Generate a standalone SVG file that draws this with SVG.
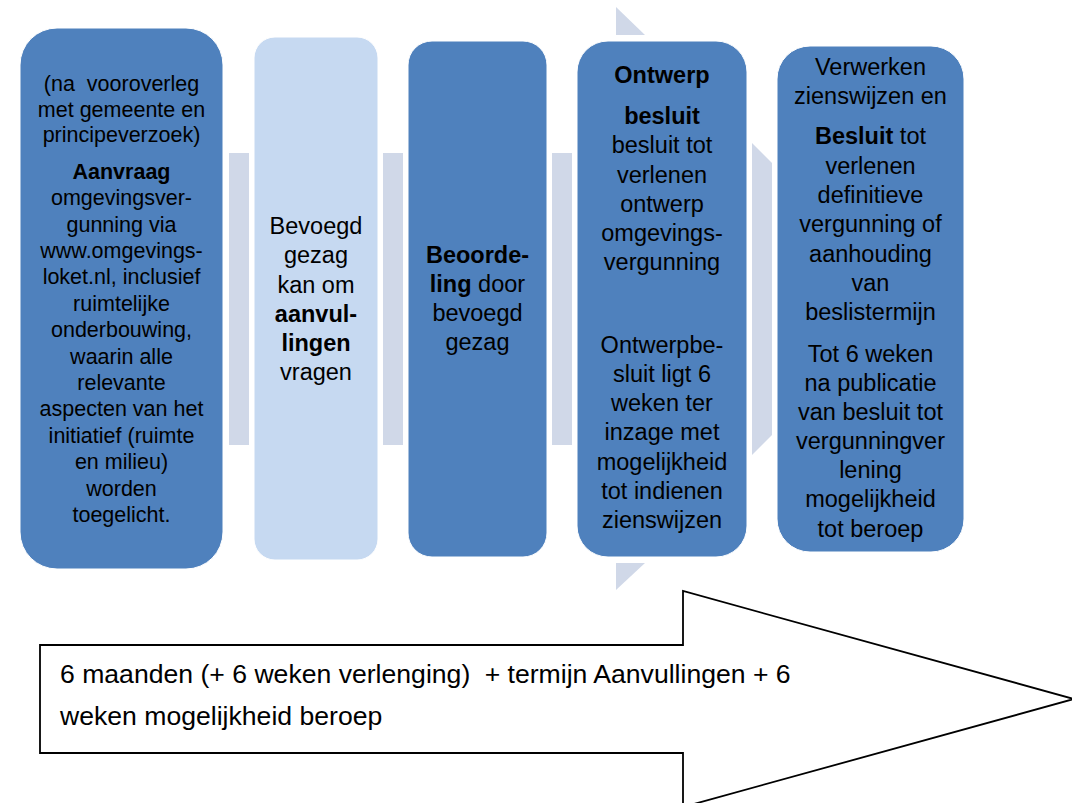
<svg xmlns="http://www.w3.org/2000/svg" width="1072" height="803" viewBox="0 0 1072 803">
<style>
text{font-family:"Liberation Sans",Arial,sans-serif;fill:#000;text-anchor:middle}
.s1{font-size:21.5px}
.s2{font-size:23.5px}
.b{font-weight:bold}
.dark{fill:#4F81BD;stroke:#fff;stroke-width:1}
.light{fill:#C6D9F1;stroke:#fff;stroke-width:1}
.conn{fill:#D0D8E8}
.big{fill:#fff;stroke:#000;stroke-width:1.8}
.note{font-size:26.6px;text-anchor:start}
</style>
<rect width="1072" height="803" fill="#fff"/>
<g id="connectors">
<polygon class="conn" points="616,7 645,35 616,35"/>
<polygon class="conn" points="616,563 645,563 616,590"/>
<rect class="conn" x="229" y="153" width="20" height="292"/>
<rect class="conn" x="383" y="153" width="20" height="292"/>
<rect class="conn" x="552" y="153" width="20" height="292"/>
<polygon class="conn" points="752,143 772,163 772,435 752,455"/>
</g>
<g id="node1">
<rect class="dark" x="20" y="28" width="203" height="541" rx="37" ry="37"/>
<g class="s1">
<text x="121.5" y="91">(na <tspan dx="6">vooroverleg</tspan></text>
<text x="121.5" y="116.5">met gemeente en</text>
<text x="121.5" y="142">principeverzoek)</text>
<text x="121.5" y="178.8" class="b">Aanvraag</text>
<text x="121.5" y="205.2">omgevingsver-</text>
<text x="121.5" y="231.6">gunning via</text>
<text x="121.5" y="258">www.omgevings-</text>
<text x="121.5" y="284.4">loket.nl, inclusief</text>
<text x="121.5" y="310.8">ruimtelijke</text>
<text x="121.5" y="337.2">onderbouwing,</text>
<text x="121.5" y="363.6">waarin alle</text>
<text x="121.5" y="390">relevante</text>
<text x="121.5" y="416.4">aspecten van het</text>
<text x="121.5" y="442.8">initiatief (ruimte</text>
<text x="121.5" y="469.2">en milieu)</text>
<text x="121.5" y="495.6">worden</text>
<text x="121.5" y="522">toegelicht.</text>
</g>
</g>
<g id="node2">
<rect class="light" x="254" y="37" width="124" height="523" rx="21" ry="21"/>
<g class="s2">
<text x="316" y="234">Bevoegd</text>
<text x="316" y="263">gezag</text>
<text x="316" y="292.5">kan om</text>
<text x="316" y="321.5" class="b">aanvul-</text>
<text x="316" y="350.7" class="b">lingen</text>
<text x="316" y="380">vragen</text>
</g>
</g>
<g id="node3">
<rect class="dark" x="408" y="41" width="139" height="516" rx="24" ry="24"/>
<g class="s2">
<text x="477.5" y="263.3" class="b">Beoorde-</text>
<text x="477.5" y="291.7"><tspan class="b">ling</tspan> door</text>
<text x="477.5" y="320.7">bevoegd</text>
<text x="477.5" y="350">gezag</text>
</g>
</g>
<g id="node4">
<rect class="dark" x="577" y="41" width="170" height="516" rx="31" ry="31"/>
<g class="s2">
<text x="662" y="83.3" class="b">Ontwerp</text>
<text x="662" y="124" class="b">besluit</text>
<text x="662" y="153.3">besluit tot</text>
<text x="662" y="183">verlenen</text>
<text x="662" y="211.7">ontwerp</text>
<text x="662" y="240.5">omgevings-</text>
<text x="662" y="270">vergunning</text>
<text x="662" y="353.3">Ontwerpbe-</text>
<text x="662" y="382">sluit ligt 6</text>
<text x="662" y="411">weken ter</text>
<text x="662" y="440">inzage met</text>
<text x="662" y="470">mogelijkheid</text>
<text x="662" y="499.3">tot indienen</text>
<text x="662" y="528.3">zienswijzen</text>
</g>
</g>
<g id="node5">
<rect class="dark" x="777" y="46" width="187" height="506" rx="33" ry="33"/>
<g class="s2">
<text x="870.5" y="75">Verwerken</text>
<text x="870.5" y="104.3">zienswijzen en</text>
<text x="870.5" y="144"><tspan class="b">Besluit</tspan> tot</text>
<text x="870.5" y="173.5">verlenen</text>
<text x="870.5" y="202.7">definitieve</text>
<text x="870.5" y="231.7">vergunning of</text>
<text x="870.5" y="261.5">aanhouding</text>
<text x="870.5" y="290.5">van</text>
<text x="870.5" y="320">beslistermijn</text>
<text x="870.5" y="361.7">Tot 6 weken</text>
<text x="870.5" y="390.7">na publicatie</text>
<text x="870.5" y="419.5">van besluit tot</text>
<text x="870.5" y="449">vergunningver</text>
<text x="870.5" y="478.3">lening</text>
<text x="870.5" y="507.3">mogelijkheid</text>
<text x="870.5" y="536.7">tot beroep</text>
</g>
</g>
<g id="timeline">
<polygon class="big" points="40,645 683,645 683,591 1074,699 683,807 683,753 40,753"/>
<text class="note" x="60" y="683.3">6 maanden (+ 6 weken verlenging) <tspan dx="7">+ termijn Aanvullingen + 6</tspan></text>
<text class="note" x="60" y="725">weken mogelijkheid beroep</text>
</g>
</svg>
